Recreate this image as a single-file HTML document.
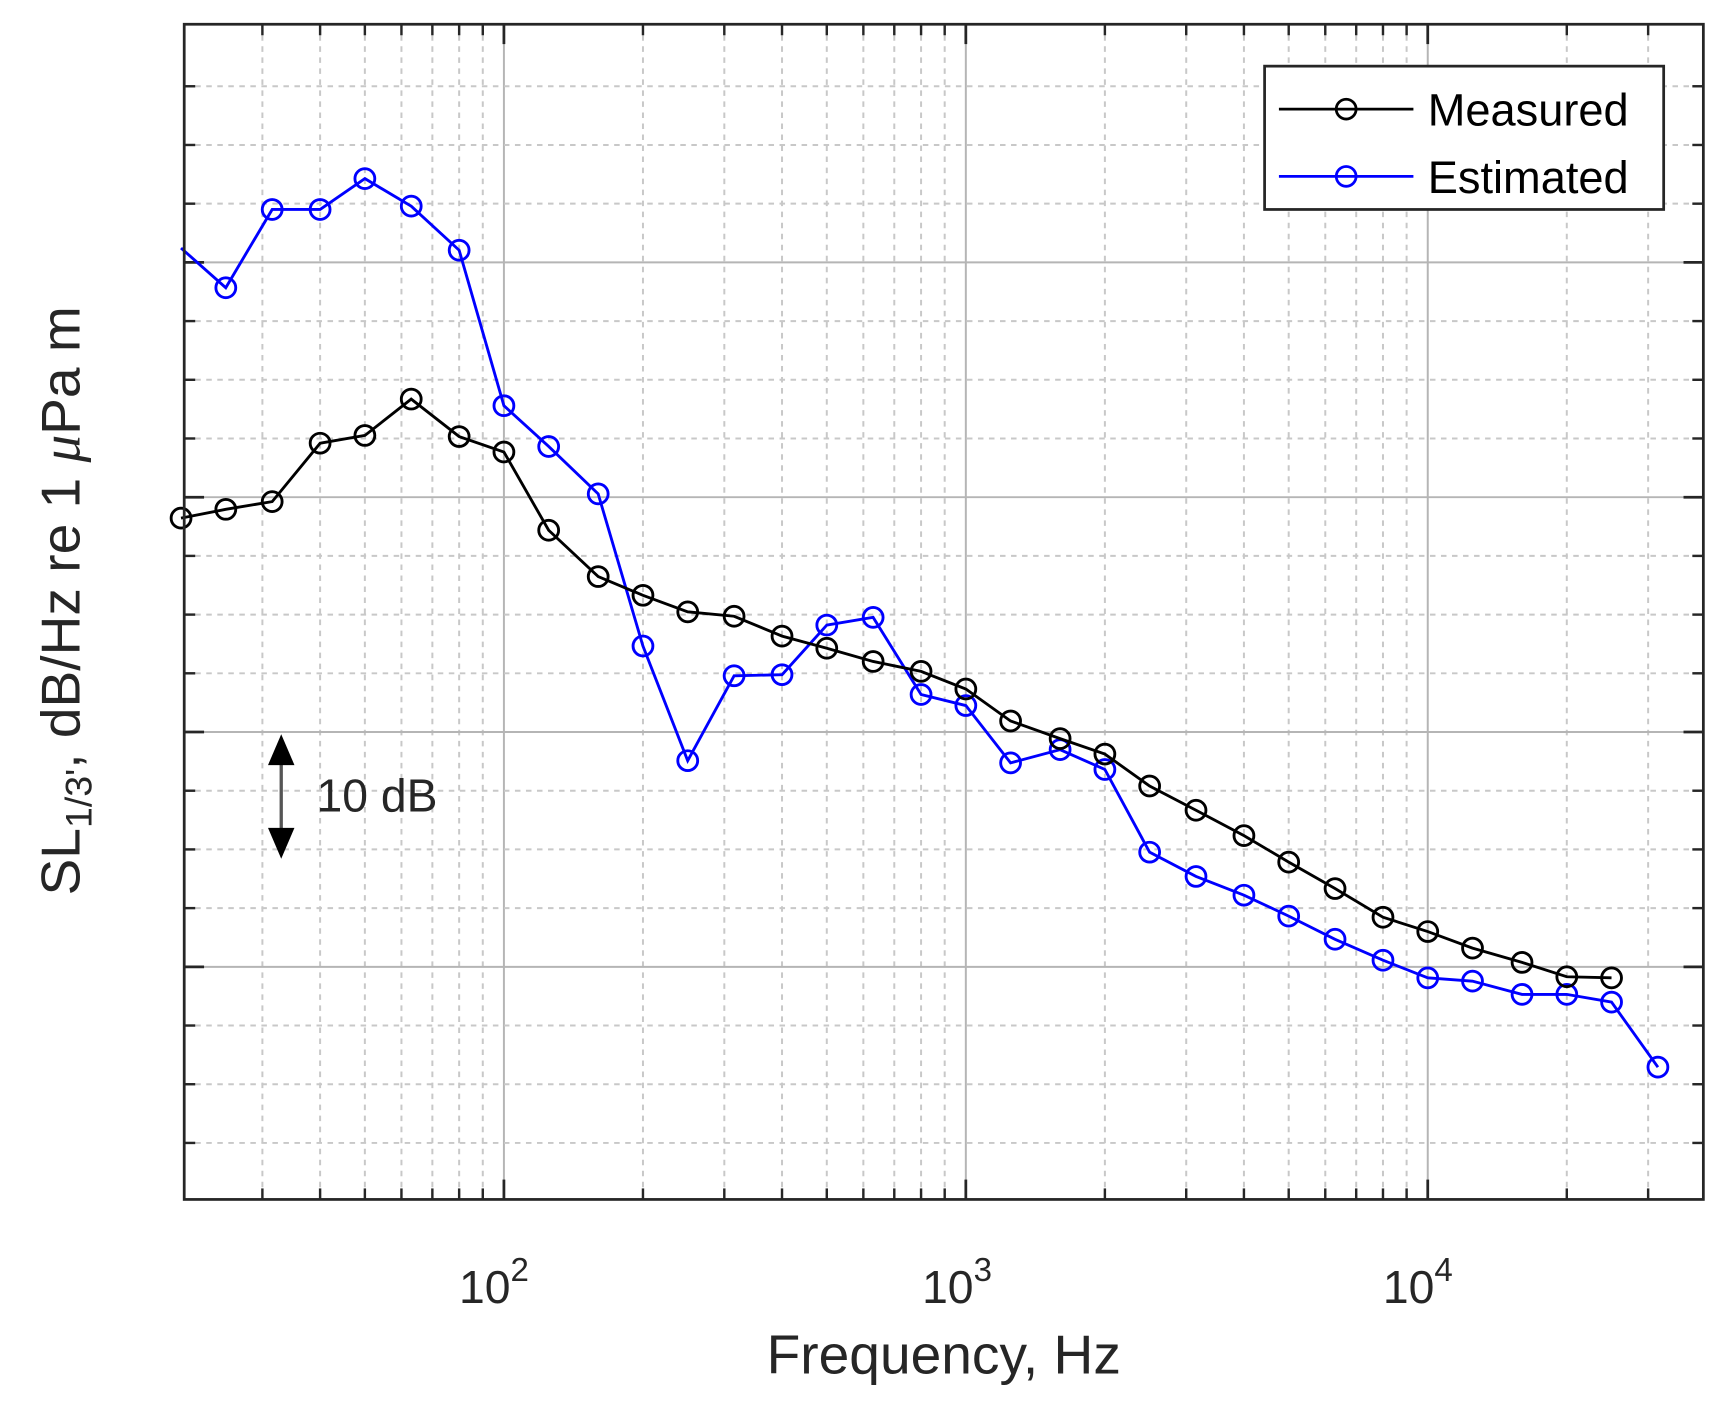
<!DOCTYPE html>
<html><head><meta charset="utf-8"><style>html,body{margin:0;padding:0;background:#fff}svg{display:block}</style></head>
<body>
<svg width="1720" height="1410" viewBox="0 0 1560 1279" xmlns="http://www.w3.org/2000/svg" font-family="Liberation Sans, Arial, sans-serif">
<rect width="1560" height="1279" fill="#fff"/>
<g id="grid"></g>
<g id="series"></g>
<rect x="167" y="22" width="1378" height="1066" fill="none" stroke="#262626" stroke-width="2.5"/>
<g font-size="42" fill="#262626" text-anchor="middle">
<text x="448" y="1182">10<tspan dy="-20" font-size="30">2</tspan></text>
<text x="868" y="1182">10<tspan dy="-20" font-size="30">3</tspan></text>
<text x="1286" y="1182">10<tspan dy="-20" font-size="30">4</tspan></text>
<text x="856" y="1246" font-size="50">Frequency, Hz</text>
</g>
<text transform="translate(72,545) rotate(-90)" text-anchor="middle" font-size="50" fill="#262626">SL<tspan font-size="34" dy="11">1/3'</tspan><tspan dy="-11">, dB/Hz re 1 </tspan><tspan font-family="Liberation Serif, serif" font-style="italic">μ</tspan>Pa m</text>
<g>
<line x1="255" y1="684" x2="255" y2="761" stroke="#555" stroke-width="3"/>
<polygon points="255,666 243,694 267,694" fill="#000"/>
<polygon points="255,779 243,751 267,751" fill="#000"/>
<text x="287" y="736" font-size="42" fill="#262626">10 dB</text>
</g>
<g>
<rect x="1147" y="60" width="362" height="130" fill="#fff" stroke="#262626" stroke-width="2.5"/>
<line x1="1160" y1="99" x2="1282" y2="99" stroke="#000" stroke-width="2.5"/>
<circle cx="1221" cy="99" r="9" fill="none" stroke="#000" stroke-width="2.5"/>
<line x1="1160" y1="160" x2="1282" y2="160" stroke="#0000ff" stroke-width="2.5"/>
<circle cx="1221" cy="160" r="9" fill="none" stroke="#0000ff" stroke-width="2.5"/>
<text x="1295" y="114" font-size="41" fill="#000">Measured</text>
<text x="1295" y="175" font-size="41" fill="#000">Estimated</text>
</g>
<script>
(function(){
var NS="http://www.w3.org/2000/svg";
function el(p,t,a){var e=document.createElementNS(NS,t);for(var k in a)e.setAttribute(k,a[k]);p.appendChild(e);return e;}
var g=document.getElementById('grid'),s=document.getElementById('series');
function X(f){return 457+419*Math.log10(f/100);}
var L=167,R=1545,T=22,B=1088;
for(var d=10;d<=10000;d*=10){for(var m=1;m<=9;m++){var f=d*m;var x=X(f);if(x<=L+1||x>=R-1)continue;
 if(m==1){el(g,'line',{x1:x,y1:T,x2:x,y2:B,stroke:'#b5b5b5','stroke-width':1.8});
  el(g,'line',{x1:x,y1:B,x2:x,y2:B-18,stroke:'#262626','stroke-width':2.5});el(g,'line',{x1:x,y1:T,x2:x,y2:T+18,stroke:'#262626','stroke-width':2.5});}
 else{el(g,'line',{x1:x,y1:T,x2:x,y2:B,stroke:'#c8c8c8','stroke-width':1.8,'stroke-dasharray':'5,5'});
  el(g,'line',{x1:x,y1:B,x2:x,y2:B-10,stroke:'#262626','stroke-width':2.2});el(g,'line',{x1:x,y1:T,x2:x,y2:T+10,stroke:'#262626','stroke-width':2.2});}}}
for(var k=-3;k<=15;k++){var y=238+k*53.25;if(k%4==0){el(g,'line',{x1:L,y1:y,x2:R,y2:y,stroke:'#b5b5b5','stroke-width':1.8});
 el(g,'line',{x1:L,y1:y,x2:L+18,y2:y,stroke:'#262626','stroke-width':2.5});el(g,'line',{x1:R,y1:y,x2:R-18,y2:y,stroke:'#262626','stroke-width':2.5});}
 else{el(g,'line',{x1:L,y1:y,x2:R,y2:y,stroke:'#c8c8c8','stroke-width':1.8,'stroke-dasharray':'5,5'});
 el(g,'line',{x1:L,y1:y,x2:L+10,y2:y,stroke:'#262626','stroke-width':2.2});el(g,'line',{x1:R,y1:y,x2:R-10,y2:y,stroke:'#262626','stroke-width':2.2});}}
var F=[20,25,31.5,40,50,63,80,100,125,160,200,250,315,400,500,630,800,1000,1250,1600,2000,2500,3150,4000,5000,6300,8000,10000,12500,16000,20000,25000,31500];
var M=[470,462,455,402,395,362,396,410,481,523,540,555,559,577,588,600,609,625,654,670,684,713,735,758,782,806,832,845,860,873,886,887];
var E=[225,261,190,190,162,187,227,368,405,448,586,690,613,612,567,560,630,640,692,680,698,773,795,812,831,852,871,887,890,902,902,909,968];
function draw(Y,c,skip0){var pts=Y.map(function(y,i){return X(F[i]).toFixed(1)+','+y;}).join(' ');
 el(s,'polyline',{points:pts,fill:'none',stroke:c,'stroke-width':2.6});
 Y.forEach(function(y,i){if(skip0&&i==0)return;el(s,'circle',{cx:X(F[i]),cy:y,r:9,fill:'none',stroke:c,'stroke-width':2.6});});}
draw(E,'#0000ff',true);draw(M,'#000',false);
})();
</script>
</svg>
</body></html>
